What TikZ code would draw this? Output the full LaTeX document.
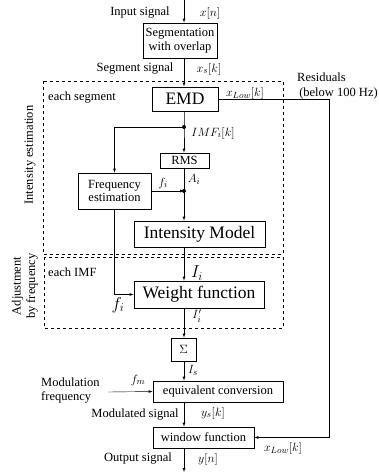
\documentclass[tikz,border=0pt]{standalone}
\usepackage{amsmath}
\usepackage{fontspec}
\setmainfont{Liberation Serif}
\usetikzlibrary{arrows}

\begin{document}
\begin{tikzpicture}[x=1pt,y=-1pt,>=latex,
    blk/.style={draw,line width=0.9pt,inner sep=1pt,align=center,font=\fontsize{12.5}{13.5}\selectfont},
    bigblk/.style={blk,font=\fontsize{17.5}{18}\selectfont},
    lbl/.style={inner sep=0pt,align=center,font=\fontsize{12.5}{14.5}\selectfont},
    region/.style={draw,dashed,line width=0.9pt}]

\useasboundingbox (0,0) rectangle (379,472);

\coordinate (in) at (184,0);
\coordinate (out) at (184,472);
\coordinate (split) at (184,127);
\coordinate (join) at (184,191);
\coordinate (res) at (329,0);
\coordinate (mod) at (108,392);

% dashed regions
\draw[region] (43,81) rectangle (283,254);
\draw[region] (44,257) rectangle (283,328);

\node[blk,minimum width=74,minimum height=35] (seg) at (180,40.5) {Segmentation\\with overlap};
\node[bigblk,minimum width=66,minimum height=24] (emd) at (185,99) {EMD};
\node[blk,minimum width=49,minimum height=15] (rms) at (184.5,160.5) {RMS};
\node[blk,minimum width=73,minimum height=36] (fe) at (114.5,191) {Frequency\\estimation};
\node[bigblk,minimum width=131,minimum height=26] (im) at (199.5,234) {Intensity Model};
\node[bigblk,minimum width=130,minimum height=27] (wf) at (199,294.5) {Weight function};
\node[blk,minimum width=25,minimum height=23] (sum) at (183.5,349.5) {$\Sigma$};
\node[blk,minimum width=130,minimum height=21] (ec) at (218,391.5) {equivalent conversion};
\node[blk,minimum width=101,minimum height=21] (win) at (203.5,437.5) {window function};

% main path
\draw[->] (in) -- (seg.north -| in);
\draw[->] (seg.south -| in) -- (emd.north -| in);
\draw[->] (emd.south -| in) -- (split) -- (rms.north -| in);
\draw[->] (split) -- (split -| fe) -- (fe.north);
\draw (rms.south -| in) -- (join);
\draw[->] (fe.east) -- (join);
\draw[->] (join) -- (im.north -| in);
\draw[->] (im.south -| in) -- (wf.north -| in);
\draw[->] (fe.south) -- (fe.south |- wf.west) -- (wf.west);
\draw[->] (wf.south -| in) -- (sum.north -| in);
\draw[->] (sum.south -| in) -- (ec.north -| in);
\draw[->] (ec.south -| in) -- (win.north -| in);
\draw[->] (win.south -| in) -- (out);
\draw[->] (emd.east) -- (emd.east -| res) -- (win.east -| res) -- (win.east);
\draw[->] (mod) -- (ec.west);

\foreach \p in {split,join}
    \fill (\p) circle (2pt);

% labels
\node[lbl] (insig) at (140,13) {Input signal};
\node[lbl] (xn) at (210,13) {$x[n]$};
\node[lbl] (segsig) at (135,69) {Segment signal};
\node[lbl] (xs) at (209,69) {$x_s[k]$};
\node[lbl,anchor=west] (eachseg) at (48,98) {each segment};
\node[lbl] (xlow) at (245,93) {$x_{Low}[k]$};
\node[lbl,align=left,anchor=west] (resid) at (297,86) {Residuals\\ \,(below 100 Hz)};
\node[lbl] (imf) at (213,133) {$IMF_i[k]$};
\node[lbl] (fi) at (163,183) {$f_i$};
\node[lbl] (ai) at (194,179) {$A_i$};
\node[lbl,anchor=west] (eachimf) at (48,272) {each IMF};
\node[lbl,font=\fontsize{18}{19}\selectfont] (ii) at (197,273) {$I_i$};
\node[lbl,font=\fontsize{18}{19}\selectfont] (fib) at (118,305) {$f_i$};
\node[lbl] (iip) at (197,316) {$I_i'$};
\node[lbl] (is) at (193,370) {$I_s$};
\node[lbl] (fm) at (138,380) {$f_m$};
\node[lbl,align=left,anchor=west] (modf) at (41,390.5) {Modulation\\frequency};
\node[lbl] (modsig) at (135,415) {Modulated signal};
\node[lbl] (ys) at (213,413) {$y_s[k]$};
\node[lbl] (xlow2) at (283,448) {$x_{Low}[k]$};
\node[lbl] (outsig) at (138,459) {Output signal};
\node[lbl] (yn) at (208,459) {$y[n]$};
\node[lbl,rotate=90] (intest) at (30,155) {Intensity estimation};
\node[lbl,rotate=90] (adj) at (25,286) {Adjustment\\by frequency};

\end{tikzpicture}
\end{document}
